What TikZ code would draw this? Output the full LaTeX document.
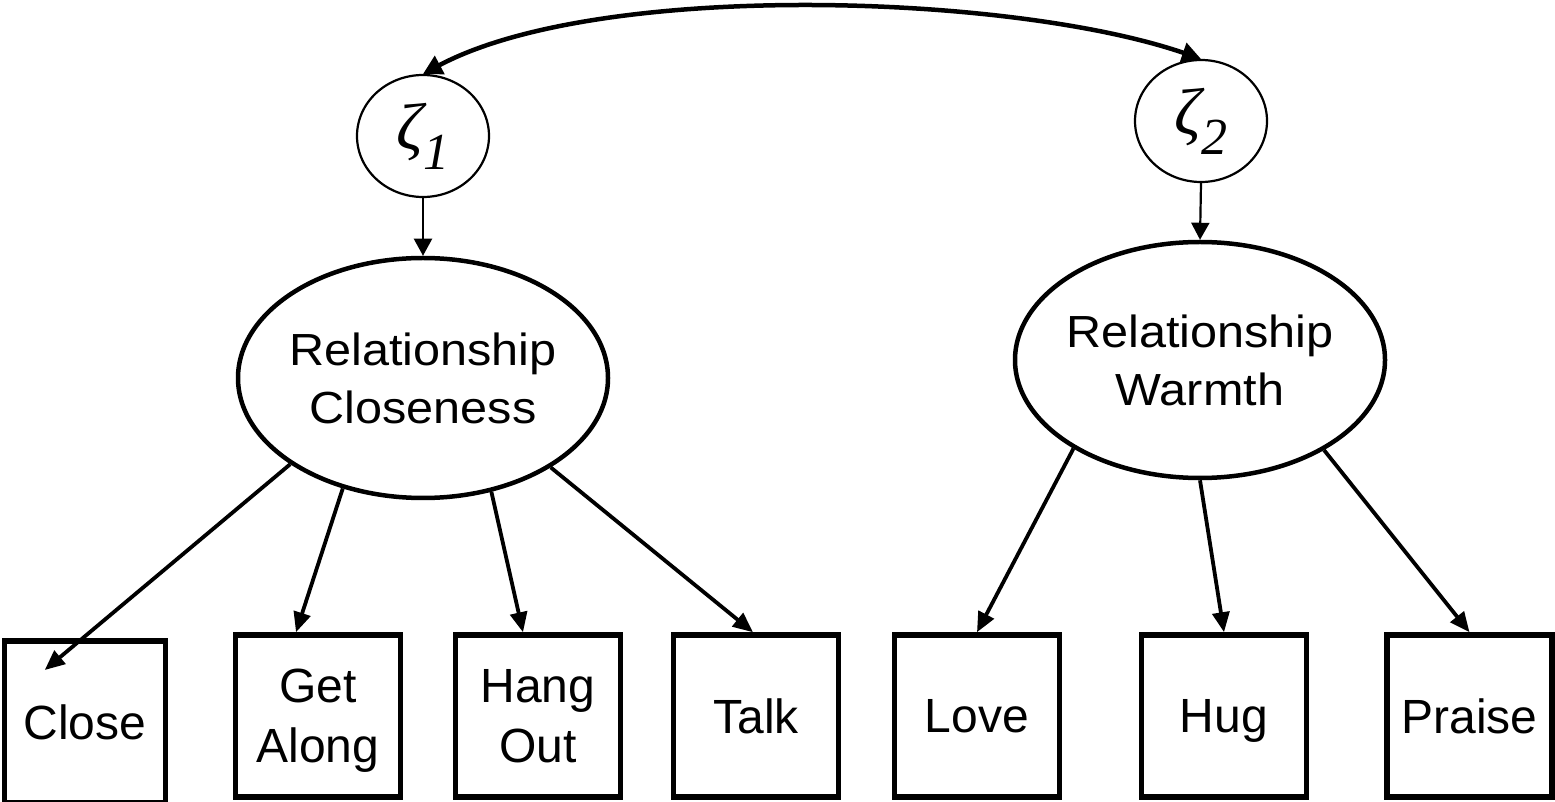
\documentclass[tikz,border=0pt]{standalone}
\usepackage{fontspec}
\setmainfont{Liberation Sans}
\newfontfamily\widesans[FakeStretch=1.08]{Liberation Sans}
\newfontfamily\zetafont{Liberation Serif}
\usetikzlibrary{arrows.meta,shapes.geometric,calc}

\tikzset{
  latent/.style={ellipse, draw, line width=4.5pt, minimum width=370pt,
    minimum height=240pt, inner sep=0pt, align=center,
    font=\widesans\fontsize{45}{58}\selectfont},
  disturb/.style={ellipse, draw, line width=2.2pt, minimum width=132pt,
    minimum height=122pt, inner sep=0pt,
    font=\zetafont\itshape\fontsize{66}{70}\selectfont},
  indicator/.style={rectangle, draw, line width=5.5pt, minimum width=165pt,
    minimum height=162pt, inner sep=0pt, align=center, text depth=0pt,
    font=\fontsize{48}{60}\selectfont},
  loading/.style={-{Triangle[length=20pt,width=17pt]}, line width=3.8pt},
  regr/.style={-{Triangle[length=17pt,width=18pt]}, line width=2.2pt},
  cov/.style={{Triangle[length=19pt,width=20pt]}-{Triangle[length=19pt,width=20pt]},
    line width=4.5pt}
}
\newcommand{\zsub}[1]{\raisebox{-20pt}{\fontsize{52}{52}\selectfont #1}}
\newcommand{\wline}[1]{\makebox[0pt]{#1}}

\begin{document}
\begin{tikzpicture}[x=1pt,y=1pt]
  \useasboundingbox (0,0) rectangle (1555,801);

  % disturbances
  \node[disturb] (z1) at (423,665) {ζ\zsub{1}};
  \node[disturb] (z2) at (1201,680) {ζ\zsub{2}};

  % latent factors
  \node[latent] (clo) at (423,423) {\wline{Relationship}\\\wline{Closeness}};
  \node[latent, minimum height=236pt] (warm) at (1200,441) {\wline{Relationship}\\\wline{Warmth}};

  % observed indicators
  \node[indicator, minimum width=161pt] (close) at (84.75,79) {Close};
  \node[indicator] (along) at (318,85) {Get\\Along};
  \node[indicator] (hang)  at (538,85) {Hang\\Out};
  \node[indicator] (talk)  at (756,85) {Talk};
  \node[indicator] (love)  at (977,85) {Love};
  \node[indicator] (hug)   at (1224,85) {Hug};
  \node[indicator] (praise) at (1469.5,85) {Praise};

  % disturbance covariance
  \draw[cov] (z1.north) .. controls +(28:200) and +(161:200) .. (z2.north);

  % disturbances to factors
  \draw[regr] (z1.south) -- (clo.north);
  \draw[regr] (z2.south) -- (warm.north);

  % loadings
  \coordinate (closeTip) at ($(close.center)+(-40,52)$);
  \draw[loading] (clo.213.6) -- (closeTip);
  \draw[loading] (clo.234.8) -- ($(along.north)+(-22,0)$);
  \draw[loading] (clo.301.6) -- ($(hang.north)+(-15,0)$);
  \draw[loading] (clo.325.9) -- ($(talk.north)+(-3,0)$);
  \draw[loading] (warm.215.3) -- (love.north);
  \draw[loading] (warm.270) -- (hug.north);
  \draw[loading] (warm.324.6) -- (praise.north);
\end{tikzpicture}
\end{document}
